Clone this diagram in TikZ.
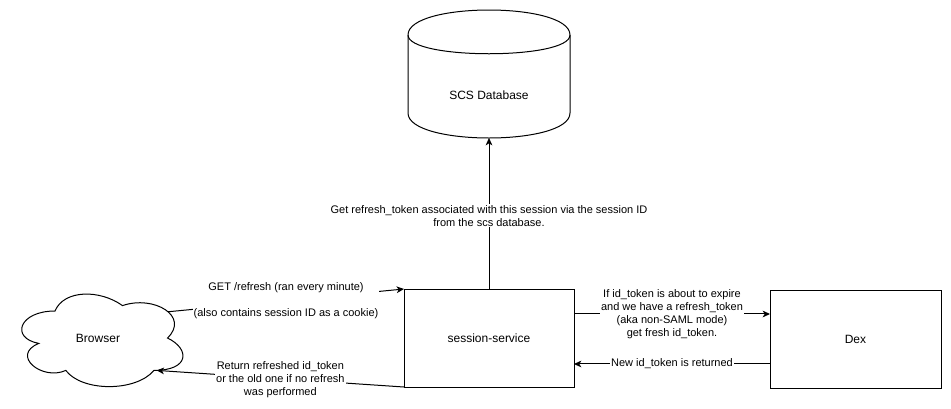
\documentclass[tikz,border=0pt]{standalone}
\usepackage{fontspec}
\setmainfont{Liberation Sans}
\usetikzlibrary{arrows.meta,calc}
\begin{document}
\begin{tikzpicture}[x=0.75pt,y=-0.75pt,
  line width=0.75pt,
  box/.style={draw, rectangle, inner sep=0pt, outer sep=0pt, font=\fontsize{9pt}{10.8pt}\selectfont},
  nlabel/.style={inner sep=0pt, font=\fontsize{9pt}{10.8pt}\selectfont},
  elabel/.style={fill=white, inner sep=0.75pt, align=center, font=\fontsize{8.25pt}{9.75pt}\selectfont},
  arr/.style={-{Stealth[length=5.5pt,width=5pt,inset=1.5pt]}}
]
\useasboundingbox (0,0) rectangle (951,408);

% boxes
\node[box, minimum width=127.5pt, minimum height=73.5pt] (session) at (489,338) {session-service};
\node[box, minimum width=128.25pt, minimum height=73.5pt] (dex) at (855.5,339) {Dex};

% cylinder
\begin{scope}[shift={(408,10)}]
\draw (0,25) .. controls (0,-8.333) and (162,-8.333) .. (162,25) -- (162,103)
      .. controls (162,136.333) and (0,136.333) .. (0,103) -- cycle;
\draw (0,25) .. controls (0,50) and (162,50) .. (162,25);
\end{scope}
\node[nlabel] (db) at (489,95) {SCS Database};
\coordinate (dbbot) at (489,138);

% cloud
\begin{scope}[shift={(10,284)}, xscale=180, yscale=108]
\draw (0.25,0.25) .. controls (0.05,0.25) and (0,0.5) .. (0.16,0.55)
      .. controls (0,0.66) and (0.18,0.9) .. (0.31,0.8)
      .. controls (0.4,1) and (0.7,1) .. (0.8,0.8)
      .. controls (1,0.8) and (1,0.6) .. (0.875,0.5)
      .. controls (1,0.3) and (0.8,0.1) .. (0.625,0.2)
      .. controls (0.5,0.05) and (0.3,0.05) .. (0.25,0.25) -- cycle;
\coordinate (cloudA) at (0.878,0.257);
\coordinate (cloudB) at (0.815,0.8);
\end{scope}
\node[nlabel] (browser) at (98,338) {Browser};

% connectors
\draw[arr] (cloudA) -- node[elabel]{GET /refresh (ran every minute)\\\mbox{}\\(also contains session ID as a cookie)} (session.north west);
\draw[arr] (session.south west) -- node[elabel, yshift=-1pt]{Return refreshed id\_token\\or the old one if no refresh\\was performed} (cloudB);
\draw[arr] (session.north) -- node[elabel, yshift=-1.8pt]{Get refresh\_token associated with this session via the session ID\\from the scs database.} (dbbot);
\coordinate (s1) at ($(session.north east)!0.255!(session.south east)$);
\draw[arr] (s1) -- node[elabel]{If id\_token is about to expire\\and we have a refresh\_token\\(aka non-SAML mode)\\get fresh id\_token.} (s1 -| dex.west);
\coordinate (d1) at ($(dex.north west)!0.755!(dex.south west)$);
\draw[arr] (d1) -- node[elabel]{New id\_token is returned} (d1 -| session.east);
\end{tikzpicture}
\end{document}
